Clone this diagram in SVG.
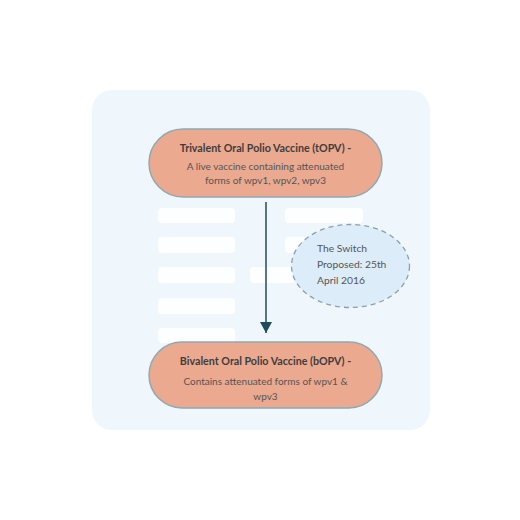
<svg xmlns="http://www.w3.org/2000/svg" width="520" height="520" viewBox="0 0 520 520">
<defs>
<style>
.pill{fill:#eba98f;stroke:#8fa9b3;stroke-width:1.5}
.bar{fill:#ffffff;opacity:0.85}
.t{font-family:Lato,"Noto Sans",sans-serif;font-size:10px;text-anchor:middle;fill:#555}
.tb{font-family:Lato,"Noto Sans",sans-serif;font-size:10.7px;text-anchor:middle;font-weight:bold;fill:#3d3d3d}
.e{font-family:Lato,"Noto Sans",sans-serif;font-size:10.3px;fill:#555}
</style>
<marker id="ah" markerWidth="11" markerHeight="12" refX="11" refY="6" orient="auto" markerUnits="userSpaceOnUse" viewBox="0 0 11 12">
<path d="M0,0 L11,6 L0,12 Z" fill="#1f4c5c"/>
</marker>
</defs>
<rect width="520" height="520" fill="#ffffff"/>
<rect x="92" y="90" width="338" height="340" rx="20" fill="#eff7fc"/>
<g id="bars">
<rect class="bar" x="158" y="208" width="77" height="15" rx="4"/>
<rect class="bar" x="158" y="237" width="77" height="16" rx="4"/>
<rect class="bar" x="158" y="267" width="77" height="16" rx="4"/>
<rect class="bar" x="158" y="298" width="77" height="16" rx="4"/>
<rect class="bar" x="158" y="328" width="77" height="15" rx="4"/>
<rect class="bar" x="285" y="208" width="78" height="15" rx="4"/>
<rect class="bar" x="285" y="237" width="40" height="16" rx="4"/>
<rect class="bar" x="250" y="267" width="45" height="16" rx="4"/>
</g>
<g id="connectors">
<line x1="266" y1="202" x2="266" y2="333" stroke="#1f4c5c" stroke-width="1.5" marker-end="url(#ah)"/>
</g>
<g id="switch-note">
<ellipse cx="350.5" cy="266" rx="59" ry="41.5" fill="#dcecf9" stroke="#8a9fb0" stroke-width="1.3" stroke-dasharray="5,4"/>
<text class="e" x="317" y="252">The Switch</text>
<text class="e" x="317" y="268">Proposed: 25th</text>
<text class="e" x="317" y="284">April 2016</text>
</g>
<g id="topv">
<rect class="pill" x="149" y="129" width="233" height="68" rx="34"/>
<text class="tb" x="265.5" y="151.5">Trivalent Oral Polio Vaccine (tOPV) -</text>
<text class="t" x="265.5" y="169.5">A live vaccine containing attenuated</text>
<text class="t" x="265.5" y="184">forms of wpv1, wpv2, wpv3</text>
</g>
<g id="bopv">
<rect class="pill" x="149" y="342" width="233" height="66" rx="33"/>
<text class="tb" x="265.5" y="365">Bivalent Oral Polio Vaccine (bOPV) -</text>
<text class="t" x="265.5" y="385">Contains attenuated forms of wpv1 &amp;</text>
<text class="t" x="265.5" y="400">wpv3</text>
</g>
</svg>
